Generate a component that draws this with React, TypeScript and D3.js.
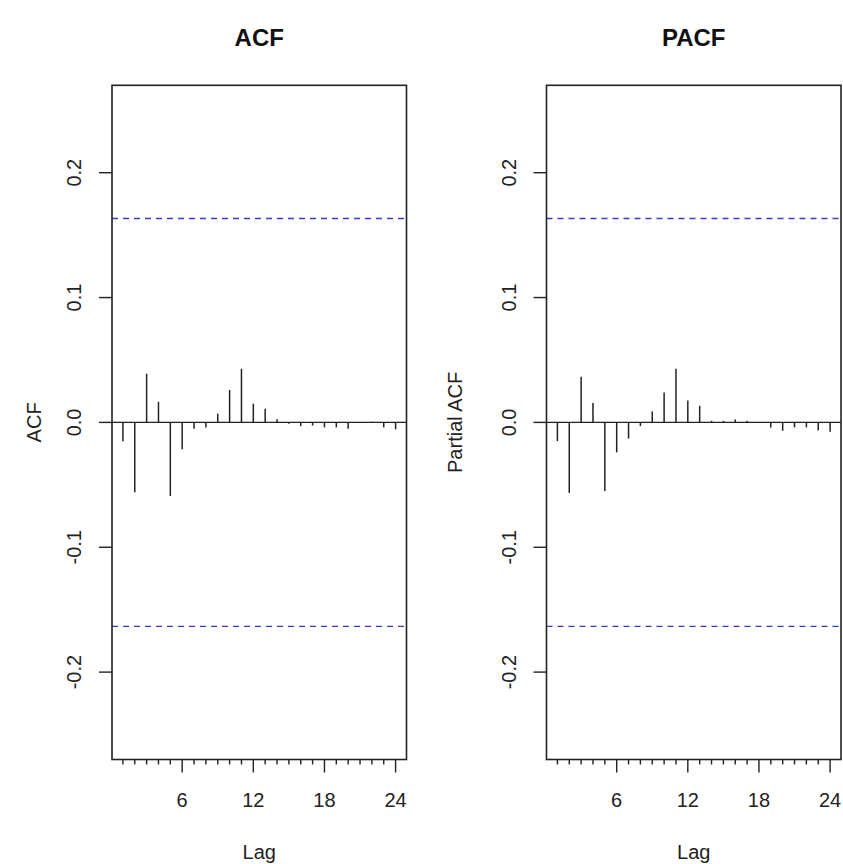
import { useEffect, useRef } from "react"
import * as d3 from "d3"

// lags 1..24
const lags = d3.range(1, 25)

const acfValues = [
  -0.015, -0.056, 0.039, 0.0165, -0.059, -0.0215, -0.005, -0.004, 0.007, 0.026, 0.043, 0.015,
  0.011, 0.0025, -0.001, -0.003, -0.0025, -0.004, -0.004, -0.005, -0.0005, 0.0005, -0.004, -0.0055,
]

const pacfValues = [
  -0.015, -0.0565, 0.0365, 0.0155, -0.055, -0.024, -0.013, -0.003, 0.0088, 0.024, 0.043, 0.0176,
  0.0133, 0.0013, 0.0013, 0.0024, 0.0013, 0.0003, -0.004, -0.0067, -0.004, -0.004, -0.0064, -0.0075,
]

const xTicks = [6, 12, 18, 24]
const yTicks = [-0.2, -0.1, 0.0, 0.1, 0.2]
const confLimit = 0.1633

const panels = [
  { title: "ACF", yLabel: "ACF", values: acfValues, left: 112, right: 406.5, yLabelX: 41 },
  { title: "PACF", yLabel: "Partial ACF", values: pacfValues, left: 546.5, right: 841, yLabelX: 462 },
]

const width = 843
const height = 864
const top = 85.3
const bottom = 759.5
const font = "'Liberation Sans', Arial, sans-serif"
const ink = "#222"

const App = () => {
  const svgRef = useRef<SVGSVGElement>(null)

  useEffect(() => {
    const svg = d3.select(svgRef.current)
    svg.selectAll("*").remove()

    const y = d3.scaleLinear().domain([-0.27, 0.27]).range([bottom, top])

    panels.forEach((p) => {
      const x = d3.scaleLinear().domain([0.08, 24.92]).range([p.left, p.right])
      const g = svg.append("g")

      // title
      g.append("text")
        .attr("x", (p.left + p.right) / 2)
        .attr("y", 46)
        .attr("text-anchor", "middle")
        .style("font-family", font)
        .style("font-size", "24px")
        .style("font-weight", "bold")
        .style("fill", "#111")
        .text(p.title)

      // confidence limits
      ;[confLimit, -confLimit].forEach((c) => {
        g.append("line")
          .attr("x1", p.left)
          .attr("x2", p.right)
          .attr("y1", y(c))
          .attr("y2", y(c))
          .attr("stroke", "#3a3ac8")
          .attr("stroke-width", 1.3)
          .attr("stroke-dasharray", "6,5")
      })

      // zero line
      g.append("line")
        .attr("x1", p.left)
        .attr("x2", p.right)
        .attr("y1", y(0))
        .attr("y2", y(0))
        .attr("stroke", ink)
        .attr("stroke-width", 1.4)

      // spikes
      g.selectAll(".spike")
        .data(lags)
        .enter()
        .append("line")
        .attr("class", "spike")
        .attr("x1", (d) => x(d))
        .attr("x2", (d) => x(d))
        .attr("y1", y(0))
        .attr("y2", (d, i) => y(p.values[i]))
        .attr("stroke", ink)
        .attr("stroke-width", 1.5)

      // box
      g.append("rect")
        .attr("x", p.left)
        .attr("y", top)
        .attr("width", p.right - p.left)
        .attr("height", bottom - top)
        .attr("fill", "none")
        .attr("stroke", ink)
        .attr("stroke-width", 1.6)

      // y axis
      yTicks.forEach((t) => {
        g.append("line")
          .attr("x1", p.left - 13)
          .attr("x2", p.left)
          .attr("y1", y(t))
          .attr("y2", y(t))
          .attr("stroke", ink)
          .attr("stroke-width", 1.4)
        g.append("text")
          .attr("transform", `translate(${p.left - 31},${y(t)}) rotate(-90)`)
          .attr("text-anchor", "middle")
          .style("font-family", font)
          .style("font-size", "20px")
          .style("fill", ink)
          .text(d3.format(".1f")(t).replace("−", "-"))
      })

      g.append("text")
        .attr("transform", `translate(${p.yLabelX},${(top + bottom) / 2}) rotate(-90)`)
        .attr("text-anchor", "middle")
        .style("font-family", font)
        .style("font-size", "20px")
        .style("fill", ink)
        .text(p.yLabel)

      // x axis: minor ticks every lag, major every 6
      lags.forEach((l) => {
        const major = xTicks.includes(l)
        g.append("line")
          .attr("x1", x(l))
          .attr("x2", x(l))
          .attr("y1", bottom)
          .attr("y2", bottom + (major ? 13 : 5))
          .attr("stroke", ink)
          .attr("stroke-width", 1.4)
      })

      xTicks.forEach((t) => {
        g.append("text")
          .attr("x", x(t))
          .attr("y", 807)
          .attr("text-anchor", "middle")
          .style("font-family", font)
          .style("font-size", "20px")
          .style("fill", ink)
          .text(t)
      })

      g.append("text")
        .attr("x", (p.left + p.right) / 2)
        .attr("y", 859)
        .attr("text-anchor", "middle")
        .style("font-family", font)
        .style("font-size", "20px")
        .style("fill", ink)
        .text("Lag")
    })
  }, [])

  return (
    <svg
      ref={svgRef}
      width={width}
      height={height}
      style={{ position: "absolute", left: 0, top: 0, background: "#fff" }}
    ></svg>
  )
}

export default App
